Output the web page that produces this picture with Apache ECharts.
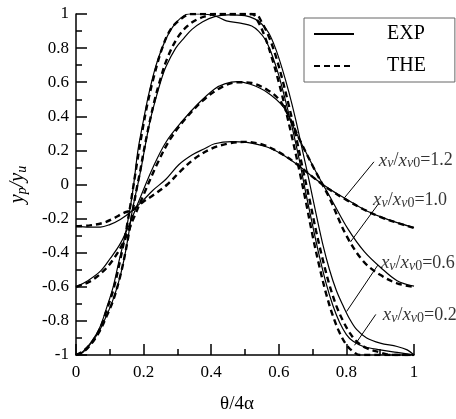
<!DOCTYPE html>
<html>
<head>
<meta charset="utf-8">
<script src="https://cdn.jsdelivr.net/npm/echarts@6/dist/echarts.min.js"></script>
<style>
  html,body{margin:0;padding:0;background:#fff;}
  #main{width:456px;height:419px;}
</style>
</head>
<body>
<div id="main"></div>
<script>
// [θ/4α, yp/yu]
const exp12 = [[0,-0.246],[0.04,-0.25],[0.072,-0.25],[0.1,-0.235],[0.131,-0.205],[0.17,-0.148],[0.2,-0.09],[0.227,-0.035],[0.266,0.031],[0.304,0.116],[0.343,0.173],[0.38,0.21],[0.41,0.239],[0.46,0.252],[0.5,0.248],[0.565,0.22],[0.613,0.173],[0.661,0.107],[0.709,0.031],[0.757,-0.035],[0.805,-0.092],[0.853,-0.148],[0.902,-0.19],[0.95,-0.224],[1,-0.252]];
const the12 = [[0,-0.245],[0.04,-0.24],[0.08,-0.225],[0.11,-0.2],[0.14,-0.168],[0.17,-0.145],[0.2,-0.1],[0.23,-0.06],[0.27,0.0],[0.31,0.08],[0.35,0.15],[0.4,0.21],[0.45,0.24],[0.5,0.25],[0.55,0.235],[0.6,0.19],[0.65,0.125],[0.7,0.045],[0.75,-0.03],[0.8,-0.09],[0.85,-0.145],[0.9,-0.19],[0.95,-0.225],[1,-0.255]];

const exp10 = [[0,-0.6],[0.035,-0.564],[0.073,-0.507],[0.102,-0.432],[0.131,-0.347],[0.16,-0.224],[0.189,-0.082],[0.227,0.097],[0.266,0.248],[0.314,0.371],[0.362,0.475],[0.41,0.56],[0.44,0.59],[0.477,0.603],[0.516,0.588],[0.565,0.541],[0.613,0.456],[0.642,0.343],[0.67,0.229],[0.709,0.078],[0.757,-0.092],[0.805,-0.262],[0.853,-0.394],[0.902,-0.488],[0.95,-0.564],[1,-0.596]];
const the10 = [[0,-0.6],[0.04,-0.57],[0.08,-0.51],[0.11,-0.44],[0.14,-0.34],[0.17,-0.2],[0.2,-0.06],[0.24,0.12],[0.28,0.27],[0.33,0.4],[0.38,0.5],[0.43,0.57],[0.48,0.6],[0.52,0.595],[0.57,0.55],[0.6,0.5],[0.63,0.4],[0.66,0.27],[0.7,0.11],[0.75,-0.08],[0.8,-0.3],[0.85,-0.45],[0.9,-0.53],[0.95,-0.58],[1,-0.6]];

const exp06 = [[0,-1],[0.02,-0.985],[0.045,-0.93],[0.07,-0.855],[0.09,-0.77],[0.107,-0.69],[0.125,-0.58],[0.14,-0.46],[0.155,-0.3],[0.165,-0.17],[0.175,-0.07],[0.185,0.02],[0.195,0.12],[0.205,0.23],[0.22,0.38],[0.237,0.51],[0.25,0.6],[0.266,0.69],[0.295,0.8],[0.32,0.86],[0.343,0.91],[0.375,0.955],[0.41,0.985],[0.45,0.995],[0.5,0.99],[0.53,0.97],[0.55,0.94],[0.57,0.89],[0.59,0.8],[0.61,0.68],[0.63,0.54],[0.65,0.38],[0.67,0.2],[0.69,0.02],[0.71,-0.17],[0.73,-0.35],[0.75,-0.5],[0.77,-0.62],[0.79,-0.71],[0.81,-0.79],[0.83,-0.85],[0.86,-0.9],[0.9,-0.93],[0.95,-0.95],[0.98,-0.97],[1,-1]];
const the06 = [[0,-1],[0.02,-0.985],[0.045,-0.935],[0.07,-0.86],[0.09,-0.775],[0.11,-0.68],[0.128,-0.56],[0.143,-0.43],[0.158,-0.27],[0.17,-0.13],[0.18,-0.02],[0.19,0.08],[0.2,0.19],[0.215,0.34],[0.232,0.49],[0.25,0.62],[0.27,0.74],[0.3,0.86],[0.33,0.93],[0.36,0.97],[0.39,0.99],[0.41,1],[0.53,1],[0.55,0.95],[0.57,0.87],[0.59,0.76],[0.61,0.62],[0.63,0.46],[0.65,0.29],[0.67,0.1],[0.69,-0.08],[0.71,-0.27],[0.73,-0.44],[0.75,-0.59],[0.77,-0.71],[0.79,-0.8],[0.81,-0.87],[0.83,-0.92],[0.86,-0.96],[0.9,-0.985],[0.93,-1],[1,-1]];

const exp02 = [[0,-1],[0.02,-0.98],[0.045,-0.925],[0.07,-0.84],[0.092,-0.715],[0.11,-0.6],[0.126,-0.46],[0.145,-0.3],[0.16,-0.14],[0.17,-0.01],[0.184,0.21],[0.2,0.38],[0.213,0.51],[0.237,0.7],[0.266,0.853],[0.295,0.947],[0.333,1],[0.37,1],[0.41,0.99],[0.445,0.96],[0.49,0.945],[0.52,0.93],[0.54,0.9],[0.56,0.85],[0.58,0.76],[0.6,0.64],[0.62,0.49],[0.64,0.33],[0.66,0.15],[0.68,-0.05],[0.7,-0.24],[0.72,-0.42],[0.74,-0.58],[0.76,-0.71],[0.78,-0.81],[0.8,-0.88],[0.82,-0.92],[0.85,-0.95],[0.9,-0.97],[0.95,-0.985],[1,-1]];
const the02 = [[0,-1],[0.02,-0.98],[0.045,-0.93],[0.07,-0.85],[0.09,-0.74],[0.11,-0.62],[0.13,-0.45],[0.15,-0.25],[0.165,-0.07],[0.18,0.12],[0.195,0.3],[0.21,0.46],[0.23,0.63],[0.255,0.8],[0.28,0.91],[0.31,0.97],[0.34,1],[0.52,1],[0.54,0.95],[0.56,0.86],[0.58,0.74],[0.6,0.6],[0.62,0.44],[0.64,0.27],[0.66,0.09],[0.68,-0.1],[0.7,-0.3],[0.72,-0.48],[0.74,-0.64],[0.76,-0.77],[0.78,-0.87],[0.8,-0.94],[0.82,-0.98],[0.84,-1],[1,-1]];

const xTicks = [0, 0.2, 0.4, 0.6, 0.8, 1];
const yTicks = [-1, -0.8, -0.6, -0.4, -0.2, 0, 0.2, 0.4, 0.6, 0.8, 1];

// xv/xv0 notes: text, where it starts, leader line ends
const noteRatio = ['1.2', '1.0', '0.6', '0.2'];
const noteAt = [[0.896,0.14],[0.879,-0.09],[0.902,-0.46],[0.9075,-0.765]];
const noteLead = [
  [[0.8815,0.133],[0.7948,-0.0765]],
  [[0.896,-0.11],[0.812,-0.337]],
  [[0.893,-0.473],[0.8006,-0.745]],
  [[0.887,-0.762],[0.824,-0.943]]
];

const serif = '"Liberation Serif", "Times New Roman", Times, serif';
const myChart = echarts.init(document.getElementById('main'));

const solid = {color:'#000', width:1.2, type:'solid'};
const dash = {color:'#000', width:2.4, type:[6,4]};

function curve(name, data, style) {
  return {
    name: name,
    type: 'line',
    data: data,
    showSymbol: false,
    symbol: 'none',
    smooth: 0.35,
    lineStyle: style,
    itemStyle: {color:'#000'},
    silent: true,
    z: name === 'EXP' ? 3 : 2
  };
}

let series = [
  curve('EXP', exp12, solid), curve('THE', the12, dash),
  curve('EXP', exp10, solid), curve('THE', the10, dash),
  curve('EXP', exp06, solid), curve('THE', the06, dash),
  curve('EXP', exp02, solid), curve('THE', the02, dash)
];

// leader lines and their labels
series.push({
  type: 'scatter',
  symbolSize: 0,
  silent: true,
  data: noteAt,
  label: {
    show: true,
    position: 'right',
    distance: 0,
    formatter: (p) => '{i|x}{s|v}{n|/}{i|x}{s|v}{z|0}{n|=' + noteRatio[p.dataIndex] + '}',
    rich: {
      i: {fontFamily: serif, fontStyle: 'italic', fontSize: 19, color: '#000'},
      n: {fontFamily: serif, fontSize: 18, color: '#000'},
      s: {fontFamily: serif, fontStyle: 'italic', fontSize: 14, color: '#000', padding: [6,0,0,0]},
      z: {fontFamily: serif, fontSize: 14, color: '#000', padding: [6,0,0,0]}
    }
  },
  markLine: {
    silent: true,
    symbol: 'none',
    label: {show: false},
    lineStyle: {color:'#000', width:1, type:'solid'},
    data: noteLead.map(l => [{coord: l[0]}, {coord: l[1]}])
  }
});

let option = {
  animation: false,
  backgroundColor: '#fff',
  grid: {left: 68, right: 42, top: 14, bottom: 52},
  legend: {
    data: ['EXP', 'THE'],
    orient: 'vertical',
    left: 304,
    top: 18,
    itemWidth: 40,
    itemHeight: 14,
    itemGap: 12,
    padding: [6, 29, 6, 9],
    borderColor: '#666',
    borderWidth: 1,
    selectedMode: false,
    itemStyle: {opacity: 0},
    textStyle: {fontFamily: serif, fontSize: 20, color: '#000', lineHeight: 20, padding: [0,0,0,28]}
  },
  xAxis: {
    type: 'value',
    min: 0, max: 1, interval: 0.2,
    name: 'θ/4α',
    nameLocation: 'middle',
    nameGap: 40,
    nameTextStyle: {fontFamily: serif, fontSize: 19, color: '#000', padding: [0, 16, 0, 0]},
    axisLine: {onZero: false, lineStyle: {color:'#000', width:1.5}},
    axisTick: {inside: true, length: 11, lineStyle: {color:'#000', width:1.5}},
    minorTick: {show: true, splitNumber: 2, length: 6, lineStyle: {color:'#000', width:1.5}},
    splitLine: {show: false},
    axisLabel: {fontFamily: serif, fontSize: 17, color: '#000', margin: 9,
      customValues: xTicks}
  },
  yAxis: {
    type: 'value',
    min: -1, max: 1, interval: 0.2,
    name: '{i|y}{s|p}{i|/y}{s|u}',
    nameLocation: 'middle',
    nameGap: 47,
    nameRotate: 90,
    nameTextStyle: {
      rich: {
        i: {fontFamily: serif, fontStyle: 'italic', fontSize: 20, color: '#000'},
        s: {fontFamily: serif, fontStyle: 'italic', fontSize: 14, color: '#000', padding: [8,0,0,0]}
      }
    },
    axisLine: {onZero: false, lineStyle: {color:'#000', width:1.5}},
    axisTick: {inside: true, length: 11, lineStyle: {color:'#000', width:1.5}},
    minorTick: {show: true, splitNumber: 2, length: 6, lineStyle: {color:'#000', width:1.5}},
    splitLine: {show: false},
    axisLabel: {fontFamily: serif, fontSize: 17, color: '#000', margin: 7,
      customValues: yTicks}
  },
  series: series
};

myChart.setOption(option);
</script>
</body>
</html>
